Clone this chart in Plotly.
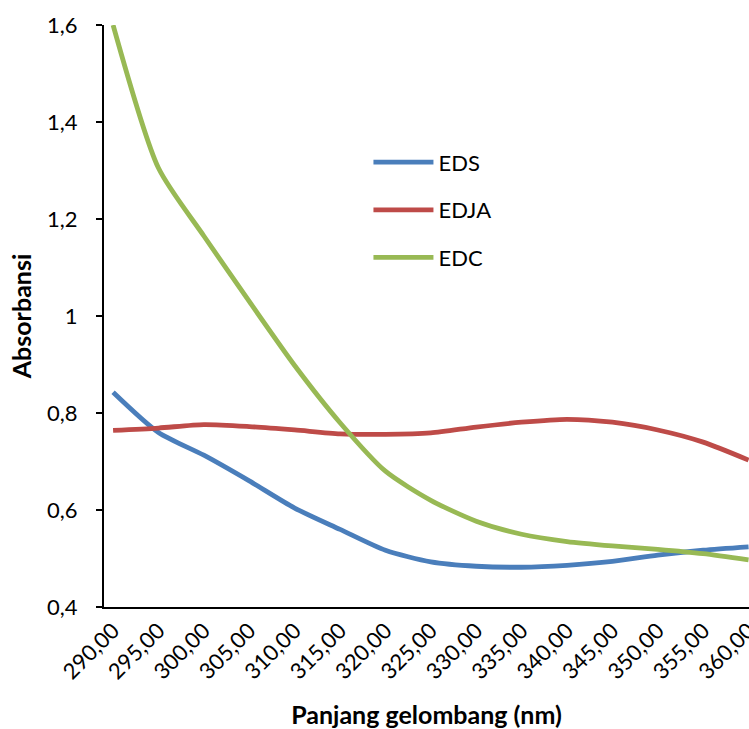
import plotly.graph_objects as go

wavelength = [290, 295, 300, 305, 310, 315, 320, 325, 330, 335, 340, 345, 350, 355, 360]
eds = [0.843, 0.760, 0.713, 0.660, 0.604, 0.560, 0.517, 0.493, 0.484, 0.482, 0.486, 0.494, 0.507, 0.517, 0.524]
edja = [0.764, 0.769, 0.776, 0.772, 0.765, 0.757, 0.756, 0.759, 0.771, 0.781, 0.787, 0.781, 0.765, 0.740, 0.703]
edc = [1.600, 1.305, 1.165, 1.030, 0.898, 0.780, 0.680, 0.620, 0.577, 0.550, 0.535, 0.526, 0.519, 0.510, 0.497]

series = [("EDS", eds, "#4A7EBB"), ("EDJA", edja, "#BE4B48"), ("EDC", edc, "#98B954")]

FONT = "Lato"

fig = go.Figure()
for i, (name, vals, col) in enumerate(series):
    fig.add_trace(go.Scatter(
        x=wavelength, y=vals, name=name, mode="lines",
        line=dict(color=col, width=4.8, shape="spline", smoothing=0.7),
        legendgroup=f"g{i}",
    ))

fig.update_layout(
    width=749, height=729,
    margin=dict(l=104, r=0, t=25, b=122, autoexpand=False),
    paper_bgcolor="white", plot_bgcolor="white",
    separators=",.",
    font=dict(family=FONT, size=22, color="black"),
    showlegend=True,
    legend=dict(
        x=0.41, y=0.80, xanchor="left", yanchor="top",
        bgcolor="rgba(0,0,0,0)", font=dict(size=22, family=FONT),
        itemwidth=60, tracegroupgap=16, traceorder="grouped",
    ),
    xaxis=dict(
        range=[289.0, 360.05], tickmode="array", tickvals=wavelength,
        tickformat=".2f", tickangle=-45, ticks="", showgrid=False,
        showline=True, linecolor="black", linewidth=2, zeroline=False,
        tickfont=dict(size=22, family=FONT), ticklabeloverflow="allow",
        title=dict(text="<b>Panjang gelombang (nm)</b>", font=dict(size=25, family=FONT), standoff=26),
        automargin=False,
    ),
    yaxis=dict(
        range=[0.4, 1.6], dtick=0.2, tick0=0.4, ticks="outside", ticklen=6, tickwidth=1.5,
        tickcolor="black", showgrid=False, showline=True, linecolor="black", linewidth=2,
        zeroline=False, tickfont=dict(size=22, family=FONT), ticklabelstandoff=14,
        title=dict(text="<b>Absorbansi</b>", font=dict(size=25, family=FONT), standoff=8),
        automargin=False,
    ),
)

fig.write_html("out.html")
